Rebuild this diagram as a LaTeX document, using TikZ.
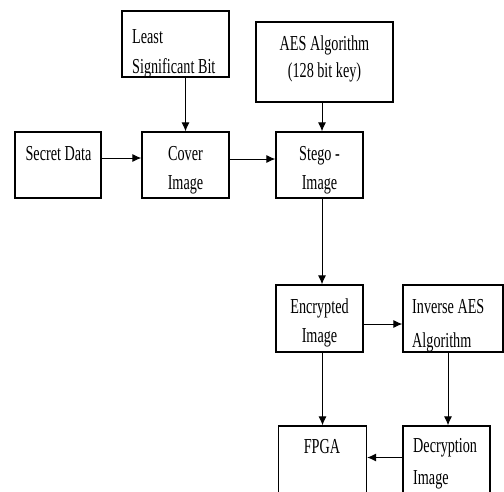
\documentclass[tikz,border=0pt]{standalone}
\usepackage{fontspec}
\setmainfont{Liberation Serif}
\usepackage{graphicx}
\usetikzlibrary{arrows.meta}
\newcommand\sy[1]{\scalebox{1}[1.5]{#1}}
\newcommand\twoc[3]{\vtop{\baselineskip=#1\halign{\hfil##\hfil\cr\sy{#2}\cr\sy{#3}\cr}}}
\newcommand\twol[3]{\vtop{\baselineskip=#1\halign{##\hfil\cr\sy{#2}\cr\sy{#3}\cr}}}
\begin{document}
\begin{tikzpicture}[x=1pt,y=-1pt,
  box/.style 2 args={draw, line width=1.2pt, inner sep=0pt, minimum width=#1, minimum height=#2},
  txt/.style={inner sep=0pt, font=\fontsize{14.2}{17}\selectfont},
  arr/.style={draw, line width=1pt, -{Latex[length=9pt,width=8pt]}}]
\useasboundingbox (0,0) rectangle (504,491);
\clip (0,0) rectangle (504,491);
% boxes
\node[box={107pt}{66pt}] (lsb) at (175.5,44) {};
\node[box={137pt}{80pt}] (aes) at (324.5,62) {};
\node[box={86pt}{66pt}] (secret) at (58,165) {};
\node[box={87pt}{66pt}] (cover) at (185.5,165) {};
\node[box={87pt}{66pt}] (stego) at (319.5,165) {};
\node[box={87pt}{67pt}] (enc) at (319.5,318.5) {};
\node[box={100pt}{67pt}] (inv) at (453,318.5) {};
\node[box={88pt}{80pt}] (fpga) at (322.5,466) {};
\node[box={87pt}{80pt}] (dec) at (446.5,466) {};
% texts
\node[txt, anchor=base west] (lsbt) at (132,43) {\twol{30pt}{Least}{Significant Bit}};
\node[txt, anchor=base] (aest) at (324.5,50) {\twoc{27pt}{AES Algorithm}{(128 bit key)}};
\node[txt, anchor=base] (secrett) at (58.5,160) {\sy{Secret Data}};
\node[txt, anchor=base] (covert) at (185.5,160) {\twoc{29pt}{Cover}{Image}};
\node[txt, anchor=base] (stegot) at (319.5,160) {\twoc{29pt}{Stego -}{Image}};
\node[txt, anchor=base] (enct) at (319.5,313) {\twoc{29pt}{Encrypted}{Image}};
\node[txt, anchor=base west] (invt) at (412,313) {\twol{34pt}{Inverse AES}{Algorithm}};
\node[txt, anchor=base] (fpgat) at (322,453) {\sy{FPGA}};
\node[txt, anchor=base west] (dect) at (413,452) {\twol{32pt}{Decryption}{Image}};
% connectors
\draw[arr] (lsb.south -| cover.north) -- (cover.north);
\draw[arr] ([yshift=7pt]secret.east) -- ([yshift=7pt]cover.west);
\draw[arr] ([yshift=6pt]cover.east) -- ([yshift=6pt]stego.west);
\draw[arr] ([xshift=-2.5pt]aes.south) -- ([xshift=2.5pt]stego.north);
\draw[arr] ([xshift=2.5pt]stego.south) -- ([xshift=2.5pt]enc.north);
\draw[arr] ([yshift=-5.5pt]enc.east) -- ([yshift=-5.5pt]inv.west);
\draw[arr] (fpga.north |- enc.south) -- (fpga.north);
\draw[arr] ([xshift=1.5pt]dec.north |- inv.south) -- ([xshift=1.5pt]dec.north);
\draw[arr] ([yshift=8.5pt]dec.west) -- ([yshift=8.5pt]fpga.east);
\end{tikzpicture}
\end{document}
